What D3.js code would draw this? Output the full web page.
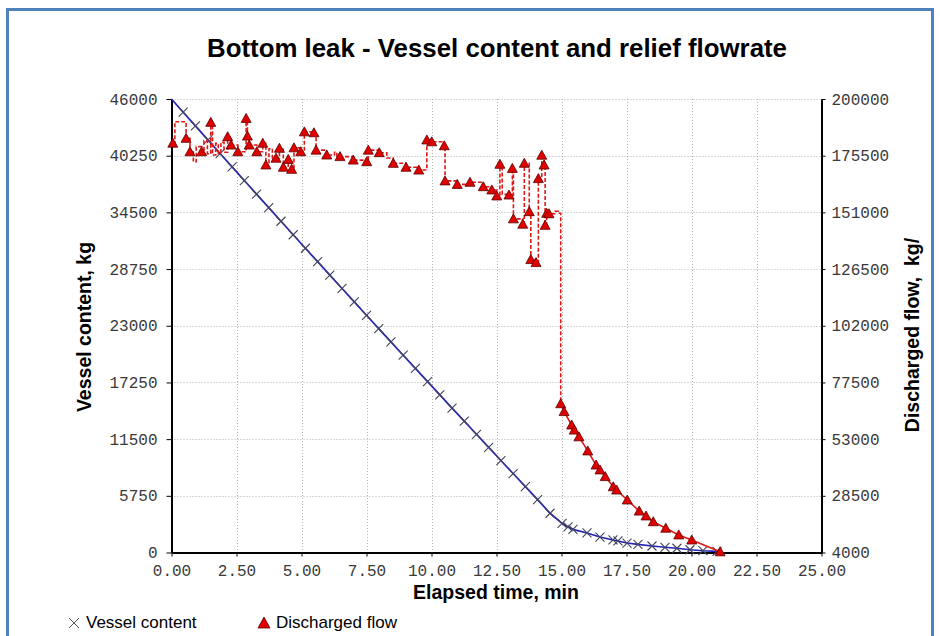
<!DOCTYPE html>
<html>
<head>
<meta charset="utf-8">
<script src="https://cdn.jsdelivr.net/npm/d3@7"></script>
<style>
  body { margin: 0; background: #fff; }
  svg { display: block; }
</style>
</head>
<body>
<svg id="chart"></svg>
<script>
// elapsed time (min) / vessel content (kg)
const vesselTime = [0, 0.45, 0.92, 1.40, 1.87, 2.33, 2.80, 3.27, 3.74, 4.21, 4.68, 5.15, 5.62, 6.09, 6.56, 7.03,
  7.50, 7.97, 8.44, 8.91, 9.38, 9.85, 10.32, 10.79, 11.26, 11.73, 12.20, 12.67, 13.14, 13.61, 14.08, 14.56,
  15.02, 15.25, 15.44, 15.98, 16.48, 16.98, 17.17, 17.52, 17.94, 18.48, 18.98, 19.44, 19.94, 20.44, 20.98]
const vesselMass = [46000, 44660, 43270, 41850, 40470, 39110, 37730, 36350, 34980, 33600, 32230, 30860, 29500, 28140, 26780, 25420,
  24060, 22710, 21360, 20010, 18670, 17330, 15990, 14650, 13320, 11990, 10660, 9330, 8010, 6690, 5370, 3980,
  2960, 2590, 2350, 1980, 1570, 1270, 1170, 960, 830, 660, 530, 430, 280, 180, 120]

// discharged flow, marked points
const flowTime = [0.05, 0.56, 0.71, 1.16, 1.51, 2.16, 2.29, 2.55, 2.87, 2.92, 2.99, 3.28, 3.51, 3.63, 4.02, 4.15,
  4.30, 4.49, 4.62, 4.71, 4.97, 5.11, 5.48, 5.56, 5.97, 6.48, 6.99, 7.51, 7.57, 7.99, 8.53, 9.02,
  9.51, 9.82, 10.01, 10.49, 10.52, 10.99, 11.48, 11.99, 12.32, 12.51, 12.63, 12.98, 13.11, 13.15, 13.51, 13.57,
  13.76, 13.82, 14.02, 14.11, 14.24, 14.33, 14.37, 14.43, 14.52,
  14.97, 15.10, 15.39, 15.49, 15.67, 16.01, 16.33, 16.48, 16.68, 16.99, 17.12, 17.53, 17.99, 18.25, 18.53,
  19.01, 19.51, 20.01, 21.10]
const flowRate = [180900, 183000, 177200, 177200, 189900, 183700, 180100, 177200, 191600, 184000, 180100, 177200, 180900, 171500, 174400, 178700,
  170500, 173900, 169600, 178900, 177200, 185800, 185400, 177900, 175800, 175100, 173600, 172900, 177900, 176800, 172200, 170500,
  169300, 182300, 181500, 179800, 164600, 163100, 164000, 162100, 160700, 158100, 171800, 158500, 170000, 148200, 145900, 172200,
  151300, 130600, 129300, 165600, 175700, 171500, 145400, 150600, 150400,
  68300, 64900, 59100, 56900, 54000, 47900, 41800, 39700, 36800, 32400, 31000, 26700, 21900, 19800, 17300,
  14500, 11600, 9400, 4300]

// discharged flow, unmarked steps
const stepTime = [0.13, 0.84, 0.95, 1.25, 1.38, 1.58, 1.70, 1.80, 1.90, 2.02, 3.75, 3.88, 6.27, 6.36, 8.28, 12.72, 14.75, 14.88]
const stepRate = [190200, 172900, 179400, 182000, 176300, 175800, 180800, 176500, 181300, 177000, 178500, 173200, 177000, 175300, 174500, 158800, 151500, 150600]

const xTicks = [0, 2.5, 5, 7.5, 10, 12.5, 15, 17.5, 20, 22.5, 25]
const leftTicks = [0, 5750, 11500, 17250, 23000, 28750, 34500, 40250, 46000]
const rightTicks = [4000, 28500, 53000, 77500, 102000, 126500, 151000, 175500, 200000]

const width = 940
const height = 636

const svg = d3.select("#chart")
    .attr("width", width)
    .attr("height", height)

const x = d3.scaleLinear().domain([0, 25]).range([171.5, 821.5])
const yL = d3.scaleLinear().domain([0, 46000]).range([552.5, 99])
const yR = d3.scaleLinear().domain([4000, 200000]).range([552.5, 99])

// frame
svg.append("rect")
    .attr("x", 7.5).attr("y", 9.5)
    .attr("width", 925).attr("height", 700)
    .attr("fill", "none")
    .attr("stroke", "#4f81bd")
    .attr("stroke-width", 3)

// grid
const grid = svg.append("g")
    .attr("stroke", "#b4b4b4")
    .attr("stroke-width", 1)
    .attr("stroke-dasharray", "1,2")

grid.selectAll(".gx")
    .data(xTicks.slice(1, -1))
    .join("line")
    .attr("x1", d => Math.round(x(d)) + 0.5)
    .attr("x2", d => Math.round(x(d)) + 0.5)
    .attr("y1", yL(46000))
    .attr("y2", yL(0))

grid.selectAll(".gy")
    .data(leftTicks.slice(1))
    .join("line")
    .attr("x1", x(0))
    .attr("x2", x(25))
    .attr("y1", d => Math.round(yL(d)) + 0.5)
    .attr("y2", d => Math.round(yL(d)) + 0.5)

// axes
const tickFont = g => g.selectAll("text")
    .attr("font-family", "'Liberation Mono', 'DejaVu Sans Mono', monospace")
    .attr("font-size", 16)
    .attr("fill", "#3a3a3a")

const axisStyle = g => {
    g.select(".domain").attr("stroke", "#000").attr("stroke-width", 2)
    g.selectAll(".tick line").attr("stroke", "#000")
    tickFont(g)
}

svg.append("g")
    .attr("transform", `translate(${x(0)},0)`)
    .call(d3.axisLeft(yL).tickValues(leftTicks).tickSize(5).tickSizeOuter(0).tickPadding(9).tickFormat(d => d))
    .call(axisStyle)

svg.append("g")
    .attr("transform", `translate(${x(25)},0)`)
    .call(d3.axisRight(yR).tickValues(rightTicks).tickSize(4).tickSizeOuter(0).tickPadding(6).tickFormat(d => d))
    .call(axisStyle)

svg.append("g")
    .attr("transform", `translate(0,${yL(0)})`)
    .call(d3.axisBottom(x).tickValues(xTicks).tickSize(4).tickSizeOuter(0).tickPadding(8).tickFormat(d3.format(".2f")))
    .call(axisStyle)

// vessel content
const vessel = vesselTime.map((t, i) => [t, vesselMass[i]])

svg.append("path")
    .datum(vessel)
    .attr("fill", "none")
    .attr("stroke", "#2222b8")
    .attr("stroke-width", 1.7)
    .attr("d", d3.line().x(d => x(d[0])).y(d => yL(d[1])))

svg.append("g")
    .selectAll("path")
    .data(vessel.slice(1))
    .join("path")
    .attr("transform", d => `translate(${x(d[0])},${yL(d[1])})`)
    .attr("d", "M-4.5,-4.5L4.5,4.5M-4.5,4.5L4.5,-4.5")
    .attr("stroke", "#44445a")
    .attr("stroke-width", 1.1)

// discharged flow
const flowMarks = flowTime.map((t, i) => [t, flowRate[i]])
const flowLine = flowMarks.concat(stepTime.map((t, i) => [t, stepRate[i]]))
    .sort((a, b) => a[0] - b[0])

const dropAt = 14.97

svg.append("path")
    .datum(flowLine.filter(d => d[0] <= dropAt))
    .attr("fill", "none")
    .attr("stroke", "#e01818")
    .attr("stroke-width", 1.6)
    .attr("stroke-dasharray", "4,2")
    .attr("d", d3.line().curve(d3.curveStepAfter).x(d => x(d[0])).y(d => yR(d[1])))

svg.append("path")
    .datum(flowLine.filter(d => d[0] >= dropAt))
    .attr("fill", "none")
    .attr("stroke", "#e01818")
    .attr("stroke-width", 1.6)
    .attr("d", d3.line().x(d => x(d[0])).y(d => yR(d[1])))

svg.append("g")
    .selectAll("path")
    .data(flowMarks)
    .join("path")
    .attr("transform", d => `translate(${x(d[0])},${yR(d[1])})`)
    .attr("d", "M0,-5L5,4L-5,4Z")
    .attr("fill", "#e00000")
    .attr("stroke", "#5a0000")
    .attr("stroke-width", 0.8)

// titles
const sans = "'Liberation Sans', Arial, sans-serif"

svg.append("text")
    .attr("x", 497).attr("y", 57)
    .attr("text-anchor", "middle")
    .attr("font-family", sans)
    .attr("font-weight", "bold")
    .attr("font-size", 26)
    .attr("textLength", 580)
    .attr("lengthAdjust", "spacingAndGlyphs")
    .text("Bottom leak - Vessel content and relief flowrate")

svg.append("text")
    .attr("x", 496).attr("y", 599)
    .attr("text-anchor", "middle")
    .attr("font-family", sans)
    .attr("font-weight", "bold")
    .attr("font-size", 19.5)
    .text("Elapsed time, min")

svg.append("text")
    .attr("transform", "translate(91,327) rotate(-90)")
    .attr("text-anchor", "middle")
    .attr("font-family", sans)
    .attr("font-weight", "bold")
    .attr("font-size", 19.5)
    .text("Vessel content, kg")

svg.append("text")
    .attr("transform", "translate(919,335) rotate(-90)")
    .attr("text-anchor", "middle")
    .attr("font-family", sans)
    .attr("font-weight", "bold")
    .attr("font-size", 19.5)
    .style("white-space", "pre")
    .text("Discharged flow,  kg/")

// legend
const legend = svg.append("g")
    .attr("font-family", sans)
    .attr("font-size", 17)

legend.append("path")
    .attr("transform", "translate(74,623)")
    .attr("d", "M-5,-5L5,5M-5,5L5,-5")
    .attr("stroke", "#555")
    .attr("stroke-width", 1)

legend.append("text")
    .attr("x", 86).attr("y", 628)
    .text("Vessel content")

legend.append("path")
    .attr("transform", "translate(264,623)")
    .attr("d", "M0,-6L6,5L-6,5Z")
    .attr("fill", "#e00000")
    .attr("stroke", "#5a0000")
    .attr("stroke-width", 0.8)

legend.append("text")
    .attr("x", 276).attr("y", 628)
    .text("Discharged flow")
</script>
</body>
</html>
